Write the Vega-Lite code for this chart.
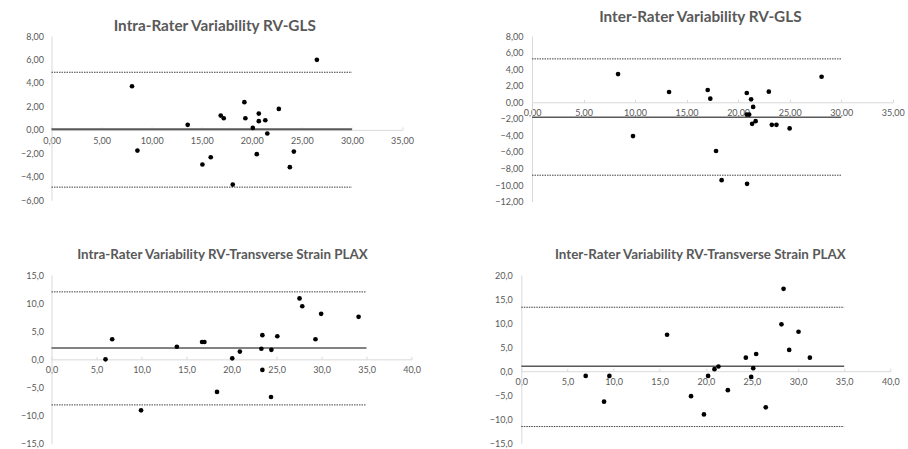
{
  "$schema": "https://vega.github.io/schema/vega-lite/v6.json",
  "padding": {"left": 20.5, "top": 9, "right": 0, "bottom": 0},
  "datasets": {
    "all": [
      {"panel": 1, "kind": "pt", "x": 8.04, "y": 3.72},
      {"panel": 1, "kind": "pt", "x": 8.58, "y": -1.76},
      {"panel": 1, "kind": "pt", "x": 13.6, "y": 0.43},
      {"panel": 1, "kind": "pt", "x": 15.07, "y": -2.95},
      {"panel": 1, "kind": "pt", "x": 15.9, "y": -2.33},
      {"panel": 1, "kind": "pt", "x": 16.9, "y": 1.22},
      {"panel": 1, "kind": "pt", "x": 17.2, "y": 0.99},
      {"panel": 1, "kind": "pt", "x": 18.1, "y": -4.66},
      {"panel": 1, "kind": "pt", "x": 19.26, "y": 2.36},
      {"panel": 1, "kind": "pt", "x": 19.36, "y": 0.99},
      {"panel": 1, "kind": "pt", "x": 20.1, "y": 0.17},
      {"panel": 1, "kind": "pt", "x": 20.5, "y": -2.07},
      {"panel": 1, "kind": "pt", "x": 20.7, "y": 1.39},
      {"panel": 1, "kind": "pt", "x": 20.7, "y": 0.74},
      {"panel": 1, "kind": "pt", "x": 21.35, "y": 0.82},
      {"panel": 1, "kind": "pt", "x": 21.55, "y": -0.31},
      {"panel": 1, "kind": "pt", "x": 22.7, "y": 1.79},
      {"panel": 1, "kind": "pt", "x": 23.8, "y": -3.18},
      {"panel": 1, "kind": "pt", "x": 24.2, "y": -1.85},
      {"panel": 1, "kind": "pt", "x": 26.5, "y": 5.97},
      {"panel": 1, "kind": "mean", "x": 0, "x2": 30, "y": 0.05},
      {"panel": 1, "kind": "limit", "x": 0, "x2": 30, "y": 4.91},
      {"panel": 1, "kind": "limit", "x": 0, "x2": 30, "y": -4.88},

      {"panel": 2, "kind": "pt", "x": 8.35, "y": 3.4},
      {"panel": 2, "kind": "pt", "x": 9.8, "y": -4.08},
      {"panel": 2, "kind": "pt", "x": 13.3, "y": 1.24},
      {"panel": 2, "kind": "pt", "x": 17.05, "y": 1.48},
      {"panel": 2, "kind": "pt", "x": 17.3, "y": 0.44},
      {"panel": 2, "kind": "pt", "x": 17.86, "y": -5.88},
      {"panel": 2, "kind": "pt", "x": 18.4, "y": -9.4},
      {"panel": 2, "kind": "pt", "x": 20.84, "y": 1.12},
      {"panel": 2, "kind": "pt", "x": 20.84, "y": -1.48},
      {"panel": 2, "kind": "pt", "x": 21.07, "y": -1.48},
      {"panel": 2, "kind": "pt", "x": 20.87, "y": -9.84},
      {"panel": 2, "kind": "pt", "x": 21.26, "y": 0.36},
      {"panel": 2, "kind": "pt", "x": 21.36, "y": -2.6},
      {"panel": 2, "kind": "pt", "x": 21.46, "y": -0.56},
      {"panel": 2, "kind": "pt", "x": 21.7, "y": -2.28},
      {"panel": 2, "kind": "pt", "x": 22.98, "y": 1.28},
      {"panel": 2, "kind": "pt", "x": 23.27, "y": -2.72},
      {"panel": 2, "kind": "pt", "x": 23.72, "y": -2.72},
      {"panel": 2, "kind": "pt", "x": 25.0, "y": -3.16},
      {"panel": 2, "kind": "pt", "x": 28.1, "y": 3.08},
      {"panel": 2, "kind": "mean", "x": 0, "x2": 30, "y": -1.8},
      {"panel": 2, "kind": "limit", "x": 0, "x2": 30, "y": 5.24},
      {"panel": 2, "kind": "limit", "x": 0, "x2": 30, "y": -8.8},

      {"panel": 3, "kind": "pt", "x": 6.0, "y": 0.0},
      {"panel": 3, "kind": "pt", "x": 6.74, "y": 3.57},
      {"panel": 3, "kind": "pt", "x": 9.95, "y": -9.07},
      {"panel": 3, "kind": "pt", "x": 13.93, "y": 2.24},
      {"panel": 3, "kind": "pt", "x": 16.73, "y": 3.09},
      {"panel": 3, "kind": "pt", "x": 16.99, "y": 3.09},
      {"panel": 3, "kind": "pt", "x": 18.39, "y": -5.8},
      {"panel": 3, "kind": "pt", "x": 20.08, "y": 0.18},
      {"panel": 3, "kind": "pt", "x": 20.93, "y": 1.39},
      {"panel": 3, "kind": "pt", "x": 23.32, "y": 1.88},
      {"panel": 3, "kind": "pt", "x": 23.43, "y": 4.3},
      {"panel": 3, "kind": "pt", "x": 23.43, "y": -1.88},
      {"panel": 3, "kind": "pt", "x": 24.39, "y": -6.7},
      {"panel": 3, "kind": "pt", "x": 24.43, "y": 1.69},
      {"panel": 3, "kind": "pt", "x": 25.09, "y": 4.11},
      {"panel": 3, "kind": "pt", "x": 27.56, "y": 10.83},
      {"panel": 3, "kind": "pt", "x": 27.86, "y": 9.44},
      {"panel": 3, "kind": "pt", "x": 29.33, "y": 3.57},
      {"panel": 3, "kind": "pt", "x": 29.96, "y": 8.1},
      {"panel": 3, "kind": "pt", "x": 34.12, "y": 7.56},
      {"panel": 3, "kind": "mean", "x": 0, "x2": 35, "y": 2.0},
      {"panel": 3, "kind": "limit", "x": 0, "x2": 35, "y": 12.0},
      {"panel": 3, "kind": "limit", "x": 0, "x2": 35, "y": -8.1},

      {"panel": 4, "kind": "pt", "x": 6.98, "y": -0.98},
      {"panel": 4, "kind": "pt", "x": 8.97, "y": -6.32},
      {"panel": 4, "kind": "pt", "x": 9.55, "y": -0.98},
      {"panel": 4, "kind": "pt", "x": 15.8, "y": 7.58},
      {"panel": 4, "kind": "pt", "x": 18.4, "y": -5.19},
      {"panel": 4, "kind": "pt", "x": 19.8, "y": -8.98},
      {"panel": 4, "kind": "pt", "x": 20.25, "y": -0.98},
      {"panel": 4, "kind": "pt", "x": 20.94, "y": 0.42},
      {"panel": 4, "kind": "pt", "x": 21.37, "y": 0.98},
      {"panel": 4, "kind": "pt", "x": 22.39, "y": -3.93},
      {"panel": 4, "kind": "pt", "x": 24.34, "y": 2.81},
      {"panel": 4, "kind": "pt", "x": 24.92, "y": -1.19},
      {"panel": 4, "kind": "pt", "x": 25.14, "y": 0.63},
      {"panel": 4, "kind": "pt", "x": 25.46, "y": 3.58},
      {"panel": 4, "kind": "pt", "x": 26.5, "y": -7.51},
      {"panel": 4, "kind": "pt", "x": 28.2, "y": 9.75},
      {"panel": 4, "kind": "pt", "x": 28.43, "y": 17.12},
      {"panel": 4, "kind": "pt", "x": 29.04, "y": 4.42},
      {"panel": 4, "kind": "pt", "x": 30.05, "y": 8.21},
      {"panel": 4, "kind": "pt", "x": 31.28, "y": 2.81},
      {"panel": 4, "kind": "mean", "x": 0, "x2": 35, "y": 1.05},
      {"panel": 4, "kind": "limit", "x": 0, "x2": 35, "y": 13.3},
      {"panel": 4, "kind": "limit", "x": 0, "x2": 35, "y": -11.5}
    ]
  },
  "data": {"name": "all"},
  "columns": 1,
  "align": "none",
  "spacing": 40,
  "concat": [
    {
      "columns": 2,
      "align": "none",
      "spacing": 80.5,
      "concat": [
        {
          "width": 350.5, "height": 164.3,
          "title": {"text": "Intra-Rater Variability RV-GLS", "fontSize": 15.3, "offset": -2.7, "dx": -12},
          "transform": [{"filter": "datum.panel == 1"}],
          "encoding": {
            "x": {"field": "x", "type": "quantitative", "scale": {"domain": [0, 35], "nice": false, "zero": false},
                  "axis": {"title": null, "values": [0, 5, 10, 15, 20, 25, 30, 35], "format": ".2f", "offset": -70.4}},
            "y": {"field": "y", "type": "quantitative", "scale": {"domain": [-6, 8], "nice": false, "zero": false},
                  "axis": {"title": null, "values": [-6, -4, -2, 0, 2, 4, 6, 8], "format": ".2f", "labelPadding": 8}}
          },
          "layer": [
            {"transform": [{"filter": "datum.kind == 'limit'"}], "mark": {"type": "rule", "color": "#404040", "strokeWidth": 1, "strokeDash": [1.5, 1]}, "encoding": {"x2": {"field": "x2"}}},
            {"transform": [{"filter": "datum.kind == 'mean'"}], "mark": {"type": "rule", "color": "#595959", "strokeWidth": 2}, "encoding": {"x2": {"field": "x2"}}},
            {"transform": [{"filter": "datum.kind == 'pt'"}], "mark": {"type": "circle", "size": 22, "color": "#000000", "opacity": 1}}
          ]
        },
        {
          "width": 360.7, "height": 165.7,
          "title": {"text": "Inter-Rater Variability RV-GLS", "fontSize": 15.3, "offset": 6.9, "dx": -12},
          "transform": [{"filter": "datum.panel == 2"}],
          "encoding": {
            "x": {"field": "x", "type": "quantitative", "scale": {"domain": [0, 35], "nice": false, "zero": false},
                  "axis": {"title": null, "values": [0, 5, 10, 15, 20, 25, 30, 35], "format": ".2f", "offset": -99.4}},
            "y": {"field": "y", "type": "quantitative", "scale": {"domain": [-12, 8], "nice": false, "zero": false},
                  "axis": {"title": null, "values": [-12, -10, -8, -6, -4, -2, 0, 2, 4, 6, 8], "format": ".2f", "labelPadding": 9}}
          },
          "layer": [
            {"transform": [{"filter": "datum.kind == 'limit'"}], "mark": {"type": "rule", "color": "#404040", "strokeWidth": 1, "strokeDash": [1.5, 1]}, "encoding": {"x2": {"field": "x2"}}},
            {"transform": [{"filter": "datum.kind == 'mean'"}], "mark": {"type": "rule", "color": "#595959", "strokeWidth": 1.5}, "encoding": {"x2": {"field": "x2"}}},
            {"transform": [{"filter": "datum.kind == 'pt'"}], "mark": {"type": "circle", "size": 22, "color": "#000000", "opacity": 1}}
          ]
        }
      ]
    },
    {
      "columns": 2,
      "align": "none",
      "spacing": 68.8,
      "concat": [
        {
          "width": 360, "height": 168.7,
          "title": {"text": "Intra-Rater Variability RV-Transverse Strain PLAX", "fontSize": 13.4, "offset": 10, "dx": -9},
          "transform": [{"filter": "datum.panel == 3"}],
          "encoding": {
            "x": {"field": "x", "type": "quantitative", "scale": {"domain": [0, 40], "nice": false, "zero": false},
                  "axis": {"title": null, "values": [0, 5, 10, 15, 20, 25, 30, 35, 40], "format": ".1f", "offset": -84.35}},
            "y": {"field": "y", "type": "quantitative", "scale": {"domain": [-15, 15], "nice": false, "zero": false},
                  "axis": {"title": null, "values": [-15, -10, -5, 0, 5, 10, 15], "format": ".1f", "labelPadding": 8}}
          },
          "layer": [
            {"transform": [{"filter": "datum.kind == 'limit'"}], "mark": {"type": "rule", "color": "#404040", "strokeWidth": 1, "strokeDash": [1.5, 1]}, "encoding": {"x2": {"field": "x2"}}},
            {"transform": [{"filter": "datum.kind == 'mean'"}], "mark": {"type": "rule", "color": "#595959", "strokeWidth": 1.5}, "encoding": {"x2": {"field": "x2"}}},
            {"transform": [{"filter": "datum.kind == 'pt'"}], "mark": {"type": "circle", "size": 22, "color": "#000000", "opacity": 1}}
          ]
        },
        {
          "width": 369, "height": 168.4,
          "title": {"text": "Inter-Rater Variability RV-Transverse Strain PLAX", "fontSize": 13.4, "offset": 10, "dx": -5.5},
          "transform": [{"filter": "datum.panel == 4"}],
          "encoding": {
            "x": {"field": "x", "type": "quantitative", "scale": {"domain": [0, 40], "nice": false, "zero": false},
                  "axis": {"title": null, "values": [0, 5, 10, 15, 20, 25, 30, 35, 40], "format": ".1f", "offset": -72.2}},
            "y": {"field": "y", "type": "quantitative", "scale": {"domain": [-15, 20], "nice": false, "zero": false},
                  "axis": {"title": null, "values": [-15, -10, -5, 0, 5, 10, 15, 20], "format": ".1f", "labelPadding": 9}}
          },
          "layer": [
            {"transform": [{"filter": "datum.kind == 'limit'"}], "mark": {"type": "rule", "color": "#404040", "strokeWidth": 1, "strokeDash": [1.5, 1]}, "encoding": {"x2": {"field": "x2"}}},
            {"transform": [{"filter": "datum.kind == 'mean'"}], "mark": {"type": "rule", "color": "#595959", "strokeWidth": 1.5}, "encoding": {"x2": {"field": "x2"}}},
            {"transform": [{"filter": "datum.kind == 'pt'"}], "mark": {"type": "circle", "size": 22, "color": "#000000", "opacity": 1}}
          ]
        }
      ]
    }
  ],
  "config": {
    "locale": {"number": {"decimal": ",", "thousands": ".", "grouping": [3], "currency": ["", " €"]}},
    "view": {"stroke": null},
    "font": "Lato",
    "title": {"font": "Lato", "fontWeight": "bold", "color": "#595959", "anchor": "middle", "baseline": "alphabetic"},
    "axis": {"labelFont": "Lato", "labelFontSize": 9, "labelColor": "#595959", "domainColor": "#d9d9d9", "domainWidth": 1, "tickColor": "#d9d9d9", "grid": false, "labelFlush": false, "labelOverlap": false},
    "axisX": {"tickSize": -3, "labelPadding": 9.5},
    "axisY": {"ticks": false}
  }
}
